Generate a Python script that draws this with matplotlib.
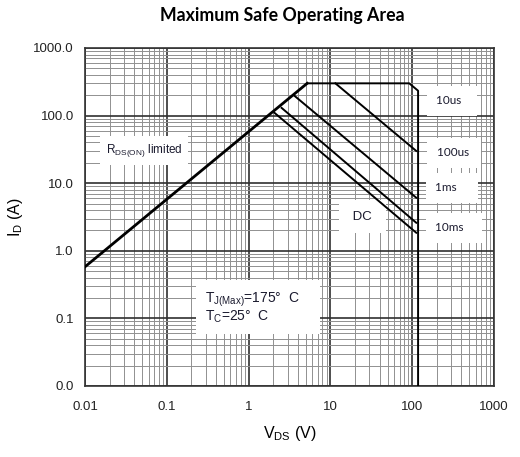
import matplotlib
matplotlib.use("Agg")
import matplotlib.pyplot as plt
from matplotlib.ticker import FixedLocator, FixedFormatter, LogLocator, NullFormatter

plt.rcParams["font.family"] = ["Liberation Sans", "DejaVu Sans"]
plt.rcParams["mathtext.fontset"] = "custom"
plt.rcParams["mathtext.rm"] = "Liberation Sans"
plt.rcParams["mathtext.it"] = "Liberation Sans:italic"

# --- data (V, A) ---
rds_v = [0.01, 5.2]
rds_i = [0.58, 300.0]

us10_v = [5.2, 92.0, 118.0, 118.0]
us10_i = [300.0, 300.0, 233.0, 0.01]

us100_v = [11.5, 112.0]
us100_i = [300.0, 30.0]

ms1_v = [3.64, 112.0]
ms1_i = [196.0, 6.1]

ms10_v = [2.53, 112.0]
ms10_i = [130.0, 2.6]

dc_v = [2.07, 112.0]
dc_i = [110.0, 1.85]

x_ticks = [0.01, 0.1, 1, 10, 100, 1000]
x_labels = ["0.01", "0.1", "1", "10", "100", "1000"]
y_ticks = [0.01, 0.1, 1, 10, 100, 1000]
y_labels = ["0.0", "0.1", "1.0", "10.0", "100.0", "1000.0"]

fig = plt.figure(figsize=(5.2, 4.57), dpi=100)
ax = fig.add_axes([0.1635, 0.1554, 0.7865, 0.7396])
ax.set_xscale("log")
ax.set_yscale("log")
ax.set_xlim(0.01, 1000)
ax.set_ylim(0.01, 1000)

ax.xaxis.set_major_locator(FixedLocator(x_ticks))
ax.xaxis.set_major_formatter(FixedFormatter(x_labels))
ax.yaxis.set_major_locator(FixedLocator(y_ticks))
ax.yaxis.set_major_formatter(FixedFormatter(y_labels))
for axis in (ax.xaxis, ax.yaxis):
    axis.set_minor_locator(LogLocator(base=10, subs=range(2, 10), numticks=20))
    axis.set_minor_formatter(NullFormatter())

ax.grid(which="major", color="#303030", lw=1.2, zorder=0)
ax.grid(which="minor", color="#909090", lw=0.7, zorder=0)
ax.set_axisbelow(True)
ax.tick_params(which="both", length=0, labelsize=9.5, colors="#222222")
ax.tick_params(axis="x", pad=11)
ax.tick_params(axis="y", pad=8)
for s in ax.spines.values():
    s.set_color("#333333")
    s.set_linewidth(1.2)

# curves
ax.plot(rds_v, rds_i, color="black", lw=2.0, zorder=4)
for v, i in [(us10_v, us10_i), (us100_v, us100_i), (ms1_v, ms1_i),
             (ms10_v, ms10_i), (dc_v, dc_i)]:
    ax.plot(v, i, color="black", lw=1.4, zorder=4)

# labels with white background
lab = dict(fontsize=8.5, family=["Lato", "DejaVu Sans"], color="#1a1a2e",
           va="center", ha="left", zorder=3,
           bbox=dict(boxstyle="square,pad=0.8", fc="white", ec="none"))
ax.text(196, 166, "10us  ", **lab)
ax.text(200, 28.2, "100us ", **lab)
ax.text(190, 8.6, "1ms    ", **lab)
ax.text(190, 2.2, "10ms   ", **lab)
ax.text(17, 3.2, " DC ", **{**lab, "fontsize": 9.5,
                           "family": ["Liberation Sans", "DejaVu Sans"]})

ax.text(0.018, 30.2, r"R$_{\mathrm{DS(ON)}}$ limited", fontsize=8.5,
        ha="left", va="center", color="#1a1a2e", zorder=3,
        bbox=dict(boxstyle="square,pad=0.5", fc="white", ec="none"))

ax.text(0.29, 0.143, "T$_{\\mathrm{J(Max)}}$=175°  C    \nT$_{\\mathrm{C}}$=25°  C",
        fontsize=10, ha="left", va="center", color="#1a1a2e", zorder=3,
        linespacing=1.0,
        bbox=dict(boxstyle="square,pad=0.6", fc="white", ec="none"))

ax.set_xlabel("V$_{\\mathrm{DS}}$ (V)", fontsize=11.5, labelpad=8)
ax.set_ylabel("I$_{\\mathrm{D}}$ (A)", fontsize=11.5, labelpad=6)
fig.text(0.542, 0.965, "Maximum Safe Operating Area", ha="center", va="center",
         fontsize=12.8, fontweight="bold", family=["Lato", "DejaVu Sans"])

fig.savefig("out.png", dpi=100)
